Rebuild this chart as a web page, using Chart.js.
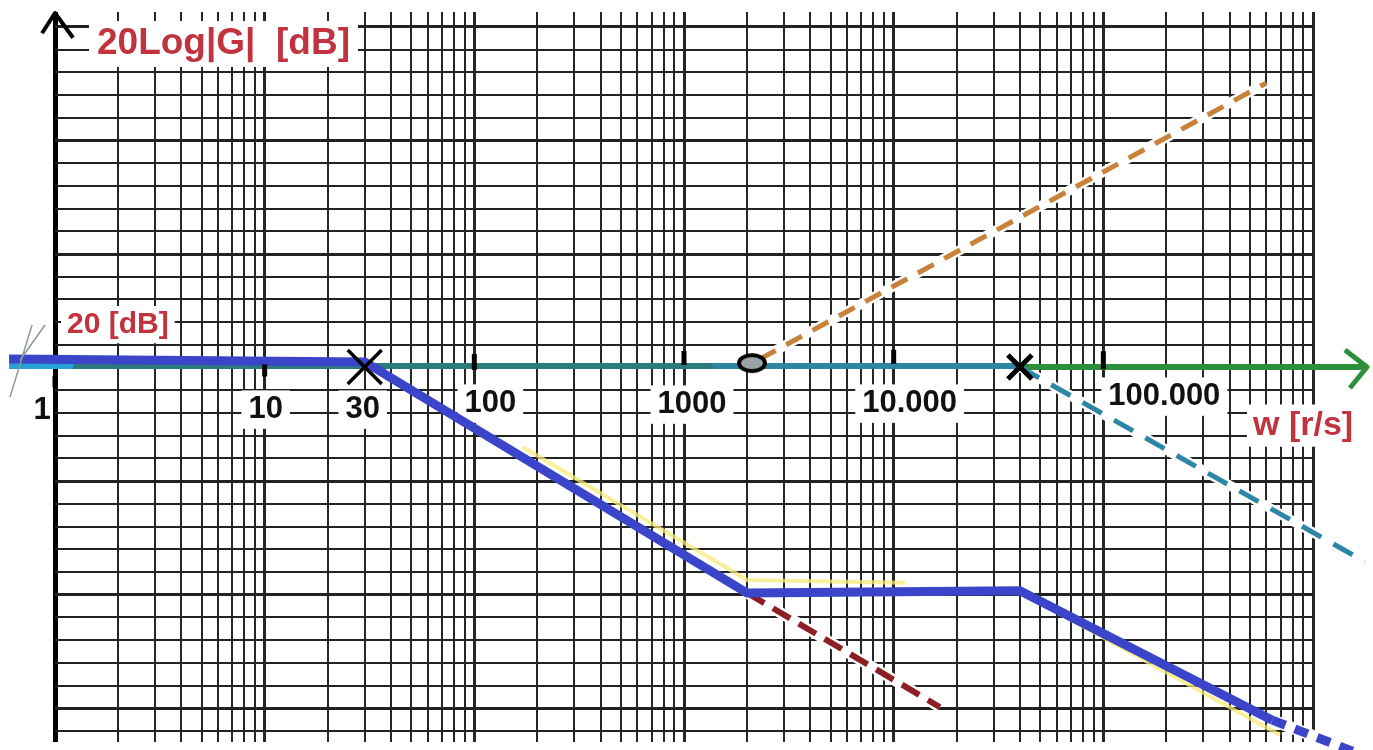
<!DOCTYPE html>
<html>
<head>
<meta charset="utf-8">
<title>Bode magnitude</title>
<script src="https://cdn.jsdelivr.net/npm/chart.js@4.4.1/dist/chart.umd.min.js"></script>
<style>
  html, body { margin: 0; padding: 0; background: #fff; }
  canvas { display: block; }
</style>
</head>
<body>
<canvas id="myChart" width="1373" height="750"></canvas>
<script>
// values: w in rad/s, magnitude in dB
const xDecades = [1, 10, 100, 1000, 10000, 100000, 1000000];
const gridMultipliers = [1, 2, 3, 4, 5, 6, 7, 8, 9];
const gridDb = [-44, -40, -36, -32, -28, -24, -20, -16, -12, -8, -4, 0, 4, 8, 12, 16,
                20, 24, 28, 32, 36, 40, 44, 48, 52, 56, 60, 64, 68, 72, 76, 80];

const tickLabels = ['1', '10', '30', '100', '1000', '10.000', '100.000'];
const tickValues = [1, 10, 30, 100, 1000, 10000, 100000];

// total asymptote (blue)
const totalW = [0.604, 30, 2000, 40000, 640000];
const totalDb = [21.5, 21.0, -19.7, -19.3, -42.1];
const totalTailW = [640000, 1600000];
const totalTailDb = [-42.1, -47.8];

// faint yellow trace beside the blue
const traceW1 = [170, 2000, 11300];
const traceDb1 = [6.0, -17.4, -17.9];
const traceW2 = [44600, 695000];
const traceDb2 = [-20.4, -44.7];

// constant gain line + w axis
const gainW1 = [0.604, 1.22];
const gainW2 = [1.22, 1374];
const gainW3 = [1374, 40000];
const gainDb = [20.3, 20.3];
const axisW = [40000, 1810000];
const axisDb = [20.1, 20.1];

// zero at 2000 (+20 dB/dec)
const zeroW = [2300, 597000];
const zeroDb = [21.5, 70.1];
// first pole continued past the zero
const pole1W = [2000, 16600];
const pole1Db = [-19.7, -39.8];
// pole at 40000
const pole2W = [40000, 1770000];
const pole2Db = [20.1, -14.2];

const poleMarkW = [30, 40000];
const poleMarkDb = [20.1, 20.1];
const zeroMarkW = [2110];
const zeroMarkDb = [20.8];

const axisTickW = [1, 10, 100, 1000, 10000, 100000];
const axisTickDb = [17.5, 19.5, 21.0, 21.7, 21.9, 21.3];

const yArrowW = [0.867, 1, 1.219];
const yArrowDb = [78.9, 82.46, 78.1];
const xArrowW = [1420000, 1810000, 1500000];
const xArrowDb = [23.1, 20.1, 16.4];

const breakW1 = [0.610, 0.777];
const breakDb1 = [14.8, 27.5];
const breakW2 = [0.681, 0.896];
const breakDb2 = [21.3, 27.5];

const RED = '#c1343f';
const FONT = "'Liberation Sans', Arial, sans-serif";

function pts(ws, dbs) {
    return ws.map((w, i) => ({ x: w, y: dbs[i] }));
}

function line(ws, dbs, color, width, order, extra) {
    return Object.assign({
        data: pts(ws, dbs),
        showLine: true,
        borderColor: color,
        borderWidth: width,
        pointRadius: 0,
        fill: false,
        clip: false,
        order: order,
        borderCapStyle: 'butt',
        borderJoinStyle: 'miter'
    }, extra || {});
}

// ellipse used for the zero marker
const ring = document.createElement('canvas');
ring.width = 34;
ring.height = 24;
const rc = ring.getContext('2d');
rc.beginPath();
rc.ellipse(17, 12, 13, 8, 0, 0, 2 * Math.PI);
rc.fillStyle = '#9aa3a6';
rc.fill();
rc.lineWidth = 4;
rc.strokeStyle = '#000';
rc.stroke();

const textPlugin = {
    id: 'bodeText',
    beforeDatasetsDraw(chart) {
        const { ctx, scales: { x, y } } = chart;
        const put = (text, px, py, size, color, align, pad) => {
            ctx.save();
            ctx.font = 'bold ' + size + 'px ' + FONT;
            const w = ctx.measureText(text).width;
            const left = align === 'left' ? px : px - w / 2;
            if (pad > 0) {
                ctx.fillStyle = '#fff';
                ctx.fillRect(left - pad, py - size * 0.62, w + 2 * pad, size * 1.24);
            }
            ctx.fillStyle = color;
            ctx.textAlign = 'left';
            ctx.textBaseline = 'middle';
            ctx.fillText(text, left, py);
            ctx.restore();
        };
        const y20 = y.getPixelForValue(20);
        const offsets = [[-13, 43], [1, 42], [-2, 42], [16, 36], [8, 37], [16, 36], [61, 29]];
        tickLabels.forEach((t, i) => {
            put(t, x.getPixelForValue(tickValues[i]) + offsets[i][0], y20 + offsets[i][1],
                31, '#111', 'center', i === 0 ? 0 : 7);
        });
        put('20Log|G|  [dB]', x.getPixelForValue(1) + 42, y.getPixelForValue(80) + 17, 37, RED, 'left', 8);
        put('20 [dB]', x.getPixelForValue(1) + 12, y20 - 43, 30, RED, 'left', 6);
        put('w [r/s]', x.getPixelForValue(1e6) - 60, y20 + 58, 34, RED, 'left', 6);
    }
};

function renderChart() {
    const ctx = document.getElementById('myChart');

    const xGrid = [];
    xDecades.forEach(d => gridMultipliers.forEach(m => {
        if (d * m <= 1000000) xGrid.push(d * m);
    }));

    new Chart(ctx, {
        type: 'scatter',
        data: {
            datasets: [
                // markers, arrows, ticks on the axis
                {
                    data: pts(poleMarkW, poleMarkDb), pointStyle: 'crossRot',
                    pointRadius: [24, 17], borderColor: '#000', borderWidth: [3.5, 5],
                    backgroundColor: '#000', order: 0, clip: false
                },
                {
                    data: pts(zeroMarkW, zeroMarkDb), pointStyle: ring,
                    pointRadius: 12, order: 0, clip: false
                },
                {
                    data: pts(axisTickW, axisTickDb), pointStyle: 'line', rotation: 90,
                    pointRadius: [5.5, 6, 8, 7, 7, 9], borderColor: '#000', borderWidth: 5,
                    order: 0, clip: false
                },
                line(yArrowW, yArrowDb, '#000', 4, 0, { borderJoinStyle: 'round' }),
                line(xArrowW, xArrowDb, '#2e8f3b', 5, 0, { borderJoinStyle: 'round' }),
                line(breakW1, breakDb1, '#8a9a94', 1.5, 0),
                line(breakW2, breakDb2, '#8a9a94', 1.5, 0),

                // total magnitude
                line(totalW, totalDb, '#3a45c9', 9, 1),
                line(totalTailW, totalTailDb, '#3a45c9', 9, 1, { borderDash: [14, 10] }),

                // asymptotes of the single terms
                line(zeroW, zeroDb, '#c8823a', 5, 2, { borderDash: [18, 12] }),
                line(pole1W, pole1Db, '#8b1f24', 6, 2, { borderDash: [20, 10] }),
                line(pole2W, pole2Db, '#2d86a6', 5, 2, { borderDash: [22, 14] }),

                // gain and w axis
                line(gainW1, gainDb, '#27a2d4', 6, 3),
                line(gainW2, gainDb, '#2b7b7c', 6, 3),
                line(gainW3, gainDb, '#2e86a3', 6, 3),
                line(axisW, axisDb, '#2e8f3b', 6, 3),

                // yellow trace
                line(traceW1, traceDb1, 'rgba(245,235,120,0.75)', 4, 4),
                line(traceW2, traceDb2, 'rgba(245,235,120,0.75)', 4, 4),

                // white erasing under the dashed lines
                line(zeroW, zeroDb, '#fff', 10, 5),
                line(pole1W, pole1Db, '#fff', 11, 5),
                line(pole2W, pole2Db, '#fff', 10, 5),
                line(totalTailW, totalTailDb, '#fff', 12, 5)
            ]
        },
        options: {
            responsive: false,
            animation: false,
            devicePixelRatio: 1,
            layout: { autoPadding: false, padding: { left: 55, right: 60, top: 12, bottom: 8 } },
            plugins: { legend: { display: false }, tooltip: { enabled: false } },
            scales: {
                x: {
                    type: 'logarithmic',
                    min: 1,
                    max: 1000000,
                    bounds: 'data',
                    afterBuildTicks: axis => { axis.ticks = xGrid.map(v => ({ value: v })); },
                    ticks: { display: false },
                    border: { display: false },
                    grid: {
                        drawTicks: false,
                        color: c => (c.tick && c.tick.value === 1) ? '#000' : '#262626',
                        lineWidth: c => {
                            if (!c.tick) return 2;
                            if (c.tick.value === 1) return 5;
                            return xDecades.includes(c.tick.value) ? 3 : 2;
                        }
                    }
                },
                y: {
                    type: 'linear',
                    min: -45.95,
                    max: 82.64,
                    bounds: 'data',
                    afterBuildTicks: axis => { axis.ticks = gridDb.map(v => ({ value: v })); },
                    ticks: { display: false },
                    border: { display: false },
                    grid: {
                        drawTicks: false,
                        color: '#222',
                        lineWidth: c => (c.tick && c.tick.value % 20 === 0) ? 3 : 2
                    }
                }
            }
        },
        plugins: [textPlugin]
    });
}

renderChart();
</script>
</body>
</html>
